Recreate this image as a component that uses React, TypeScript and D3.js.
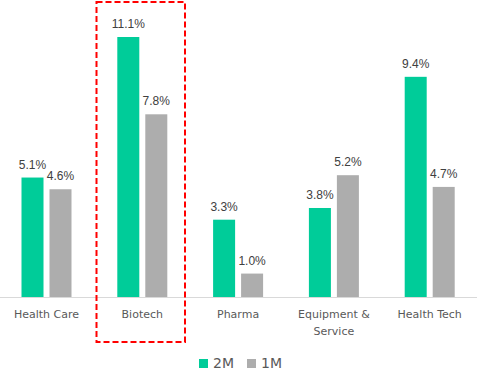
import React from "react";
import * as d3 from "d3";

const categories = ["Health Care", "Biotech", "Pharma", "Equipment & Service", "Health Tech"];
const categoryLines = [["Health Care"], ["Biotech"], ["Pharma"], ["Equipment &", "Service"], ["Health Tech"]];
const series2M = [5.1, 11.1, 3.3, 3.8, 9.4];
const series1M = [4.6, 7.8, 1.0, 5.2, 4.7];
const seriesNames = ["2M", "1M"];
const colors = ["#00CC99", "#ADADAD"];

export default function App() {
  const W = 486, H = 381;
  const x = d3.scaleBand().domain(categories).range([-1.4, 477.6]);
  const inner = d3.scaleBand().domain(seriesNames).range([0, 50]).paddingInner(0.214);
  const y = d3.scaleLinear().domain([0, 11.1]).range([297, 37]);
  const seriesVals = [series2M, series1M];
  return (
    <svg width={W} height={H} style={{ position: "absolute", left: 0, top: 0 }}>
      <rect x={0} y={0} width={W} height={H} fill="#fff" />
      <line x1={0} x2={477} y1={297.5} y2={297.5} stroke="#D9D9D9" strokeWidth={1} />
      {categories.map((c, i) => {
        const cx = (x(c) as number) + x.bandwidth() / 2;
        return (
          <g key={c}>
            {seriesNames.map((s, j) => {
              const v = seriesVals[j][i];
              const bx = cx - 25 + (inner(s) as number);
              return (
                <g key={s}>
                  <rect x={bx} y={y(v)} width={inner.bandwidth()} height={y(0) - y(v)} fill={colors[j]} />
                  <text x={bx + inner.bandwidth() / 2} y={y(v) - 9} textAnchor="middle"
                    fontFamily="'Liberation Sans', Arial, sans-serif" fontSize={12} fill="#404040">
                    {v.toFixed(1)}%
                  </text>
                </g>
              );
            })}
            {categoryLines[i].map((t, k) => (
              <text key={k} x={cx} y={318 + k * 17} textAnchor="middle"
                fontFamily="'DejaVu Sans', sans-serif" fontSize={11} fill="#595959">{t}</text>
            ))}
          </g>
        );
      })}
      <rect x={96.5} y={2} width={88.5} height={340} fill="none" stroke="#FF0000" strokeWidth={2} strokeDasharray="6,3" />
      {seriesNames.map((s, j) => (
        <g key={s} transform={`translate(${199 + j * 48},0)`}>
          <rect x={0} y={359} width={9} height={9} fill={colors[j]} />
          <text x={14} y={368} fontFamily="'DejaVu Sans', sans-serif" fontSize={14} fill="#595959">{s}</text>
        </g>
      ))}
    </svg>
  );
}
